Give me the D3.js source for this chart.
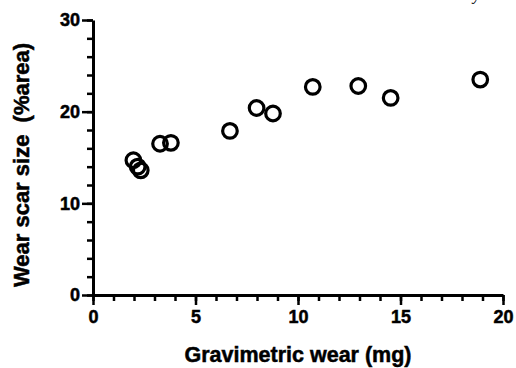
<!DOCTYPE html>
<html>
<head>
<meta charset="utf-8">
<script src="https://cdn.jsdelivr.net/npm/d3@7"></script>
<style>
  body { margin: 0; background: #fff; }
  svg { display: block; }
</style>
</head>
<body>
<div id="chart"></div>
<script>
// data
const wearMg = [1.97, 2.18, 2.33, 3.27, 3.80, 6.68, 7.98, 8.78, 10.72, 12.94, 14.52, 18.89];
const scarPct = [14.7, 14.0, 13.6, 16.5, 16.6, 17.9, 20.4, 19.8, 22.7, 22.8, 21.5, 23.5];
const xTicks = [0, 5, 10, 15, 20];
const yTicks = [0, 10, 20, 30];
const xMinor = d3.range(0, 21, 1);
const yMinor = d3.range(0, 31, 2);
const xTitle = "Gravimetric wear (mg)";
const yTitle = "Wear scar size  (%area)";

const width = 516, height = 368;
const font = "'Liberation Sans', Arial, sans-serif";

const svg = d3.select("#chart").append("svg")
  .attr("width", width).attr("height", height);

const x = d3.scaleLinear().domain([0, 20]).range([93, 503]);
const y = d3.scaleLinear().domain([0, 30]).range([295, 20]);

// minor ticks
const xAxisMinor = d3.axisBottom(x).tickValues(xMinor).tickSize(6).tickFormat("");
const yAxisMinor = d3.axisLeft(y).tickValues(yMinor).tickSize(6).tickFormat("");

svg.append("g").attr("transform", `translate(0,${y(0)})`).call(xAxisMinor)
  .call(g => g.select(".domain").remove())
  .call(g => g.selectAll("line").attr("stroke", "#000").attr("stroke-width", 2.5));
svg.append("g").attr("transform", `translate(${x(0)},0)`).call(yAxisMinor)
  .call(g => g.select(".domain").remove())
  .call(g => g.selectAll("line").attr("stroke", "#000").attr("stroke-width", 2.5));

// major ticks + labels
const xAxis = d3.axisBottom(x).tickValues(xTicks).tickSize(10).tickPadding(5).tickSizeOuter(0);
const yAxis = d3.axisLeft(y).tickValues(yTicks).tickSize(11).tickPadding(2).tickSizeOuter(0);

function styleAxis(g) {
  g.attr("font-family", font).attr("font-size", 18).attr("font-weight", "bold");
  g.select(".domain").attr("stroke", "#000").attr("stroke-width", 3);
  g.selectAll("line").attr("stroke", "#000").attr("stroke-width", 2.5);
  g.selectAll("text").attr("fill", "#000")
    .attr("stroke", "#000").attr("stroke-width", 0.5);
}

svg.append("g").attr("transform", `translate(0,${y(0)})`).call(xAxis).call(styleAxis);
svg.append("g").attr("transform", `translate(${x(0)},0)`).call(yAxis).call(styleAxis);

// axis titles
svg.append("text")
  .attr("x", 298).attr("y", 362)
  .attr("text-anchor", "middle")
  .attr("font-family", font).attr("font-size", 21.5).attr("font-weight", "bold")
  .attr("stroke", "#000").attr("stroke-width", 0.5)
  .text(xTitle);

svg.append("text")
  .attr("transform", `translate(29,165) rotate(-90)`)
  .attr("text-anchor", "middle")
  .attr("font-family", font).attr("font-size", 22).attr("font-weight", "bold")
  .attr("stroke", "#000").attr("stroke-width", 0.5)
  .style("white-space", "pre")
  .text(yTitle);

// points
const pts = wearMg.map((v, i) => ({ x: v, y: scarPct[i] }));
svg.append("g").selectAll("circle")
  .data(pts)
  .enter()
  .append("circle")
  .attr("cx", d => x(d.x))
  .attr("cy", d => y(d.y))
  .attr("r", 7.3)
  .attr("fill", "none")
  .attr("stroke", "#000")
  .attr("stroke-width", 3.2);

// clipped fragment of text above the frame
svg.append("text")
  .attr("x", 473).attr("y", 0)
  .attr("font-family", "'Liberation Serif', serif")
  .attr("font-style", "italic")
  .attr("font-size", 16)
  .text("y");
</script>
</body>
</html>
